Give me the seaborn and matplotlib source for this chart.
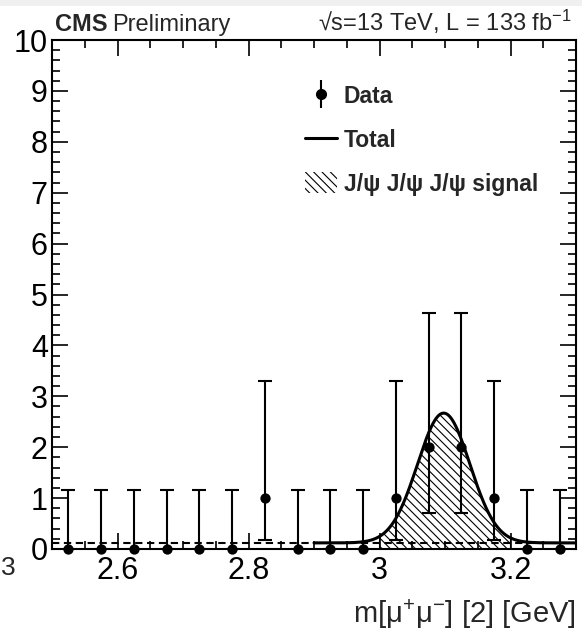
import numpy as np
import pandas as pd
import matplotlib
matplotlib.use("Agg")
import matplotlib.pyplot as plt
import seaborn as sns
from matplotlib.ticker import MultipleLocator, FuncFormatter
from matplotlib.lines import Line2D
from matplotlib.patches import Patch, Rectangle

# ---------------- data ----------------
bin_centers = [2.525, 2.575, 2.625, 2.675, 2.725, 2.775, 2.825, 2.875,
               2.925, 2.975, 3.025, 3.075, 3.125, 3.175, 3.225, 3.275]
counts      = [0, 0, 0, 0, 0, 0, 1, 0, 0, 0, 1, 2, 2, 1, 0, 0]
err_low     = [0, 0, 0, 0, 0, 0, 0.83, 0, 0, 0, 0.83, 1.29, 1.29, 0.83, 0, 0]
err_high    = [1.15, 1.15, 1.15, 1.15, 1.15, 1.15, 2.30, 1.15,
               1.15, 1.15, 2.30, 2.64, 2.64, 2.30, 1.15, 1.15]

# fitted model parameters (Gaussian signal on a flat background)
fit_mean = 3.098
fit_sigma = 0.040
fit_amp = 2.55
bkg_level = 0.12
fit_range = (2.9, 3.3)
signal_range = (3.0, 3.2)
x_range = (2.5, 3.3)
y_range = (0, 10)

legend_labels = ["Data", "Total", "J/ψ J/ψ J/ψ signal"]

# ---------------- style ----------------
sns.set_theme(style="ticks")
plt.rcParams.update({
    "font.family": ["Liberation Sans", "DejaVu Sans"],
    "mathtext.fontset": "custom",
    "mathtext.rm": "Liberation Sans",
    "mathtext.it": "Liberation Sans:italic",
    "mathtext.bf": "Liberation Sans:bold",
    "hatch.linewidth": 0.8,
    "axes.linewidth": 1.5,
    "xtick.direction": "in", "ytick.direction": "in",
    "xtick.top": True, "ytick.right": True,
    "xtick.major.size": 11.5, "ytick.major.size": 11.5,
    "xtick.minor.size": 5.8, "ytick.minor.size": 5.8,
    "xtick.major.width": 1.2, "ytick.major.width": 1.2,
    "xtick.minor.width": 1.2, "ytick.minor.width": 1.2,
    "xtick.color": "black", "ytick.color": "black",
    "axes.edgecolor": "black",
})

W, H = 582, 637
fig = plt.figure(figsize=(W / 100, H / 100), dpi=100)
fig.patch.set_facecolor("white")
ax = fig.add_axes([52 / W, (H - 549) / H, 524 / W, 509 / H])

# ---------------- model curves ----------------
def model_total(x):
    return bkg_level + fit_amp * np.exp(-0.5 * ((x - fit_mean) / fit_sigma) ** 2)

x_bkg = np.linspace(*x_range, 400)
x_fit = np.linspace(*fit_range, 400)
x_sig = np.linspace(*signal_range, 300)

# hatched signal region
ax.fill_between(x_sig, 0, model_total(x_sig), facecolor="none", edgecolor="black",
                hatch="\\\\\\\\", linewidth=0.8, zorder=1)

# dashed background
bkg_df = pd.DataFrame({"x": x_bkg, "y": np.full_like(x_bkg, bkg_level)})
sns.lineplot(data=bkg_df, x="x", y="y", ax=ax, color="black", lw=1.5,
             linestyle=(0, (3.5, 2.2)), errorbar=None, zorder=2)

# total curve
tot_df = pd.DataFrame({"x": x_fit, "y": model_total(x_fit)})
sns.lineplot(data=tot_df, x="x", y="y", ax=ax, color="black", lw=2.2,
             errorbar=None, zorder=3)

# data with asymmetric Poisson errors
data_df = pd.DataFrame({"x": bin_centers, "y": counts})
ax.errorbar(bin_centers, counts, yerr=[err_low, err_high], fmt="none",
            ecolor="black", elinewidth=1.5, capsize=5, capthick=1.5, zorder=4)
sns.scatterplot(data=data_df, x="x", y="y", ax=ax, color="black", s=55,
                edgecolor="black", linewidth=0, zorder=5, clip_on=False)

# ---------------- axes ----------------
ax.set_xlim(*x_range)
ax.set_ylim(*y_range)
ax.xaxis.set_major_locator(MultipleLocator(0.2))
ax.xaxis.set_minor_locator(MultipleLocator(0.05))
ax.yaxis.set_major_locator(MultipleLocator(1))
ax.yaxis.set_minor_locator(MultipleLocator(0.2))
ax.xaxis.set_major_formatter(FuncFormatter(lambda v, _: f"{v:g}"))
ax.yaxis.set_major_formatter(FuncFormatter(lambda v, _: f"{v:g}"))
ax.tick_params(axis="both", which="major", labelsize=22)
ax.tick_params(axis="x", which="major", pad=5)
ax.tick_params(axis="y", which="major", pad=3)
ax.set_ylabel("")
ax.set_xlabel(r"m[μ$^{+}$μ$^{-}$] [2] [GeV]", fontsize=21, loc="right")
ax.xaxis.set_label_coords(1.0, -0.095)
ax.xaxis.label.set_va("top")
ax.xaxis.label.set_ha("right")

# ---------------- legend ----------------
h_data = (Line2D([], [], marker="|", markersize=20, mew=1.5, color="black", ls="none"),
          Line2D([], [], marker="o", markersize=7, color="black", ls="none"))
h_tot = Line2D([], [], color="black", lw=2.2)
h_sig = Patch(facecolor="none", edgecolor="black", hatch="\\\\\\\\", linewidth=0)
ax.legend([h_data, h_tot, h_sig], legend_labels, loc="upper left",
          bbox_to_anchor=(253 / 524, (549 - 85) / 509), frameon=False,
          prop={"weight": "bold", "size": 16.5}, handlelength=1.4,
          handleheight=1.0, handletextpad=0.3, labelspacing=0.9,
          borderpad=0, borderaxespad=0)

# ---------------- header texts ----------------
base_y = (H - 31) / H
fig.text(55 / W, base_y, "CMS", fontsize=17, fontweight="bold", va="baseline", ha="left")
fig.text(112 / W, base_y, "Preliminary", fontsize=17, va="baseline", ha="left")
fig.text(572 / W, base_y, "√s=13 TeV, L = 133 fb$^{-1}$", fontsize=17,
         va="baseline", ha="right")

# fragment at the left edge (kept inside the canvas)
fig.text(0.5 / W, (H - 568) / H, "3", fontsize=19, va="center", ha="left")
# faint grey strip at the very top
fig.patches.append(Rectangle((0, (H - 6) / H), 1, 6 / H, transform=fig.transFigure,
                             facecolor="#f0f0f0", edgecolor="none", zorder=0))

fig.savefig("out.png", dpi=100)
